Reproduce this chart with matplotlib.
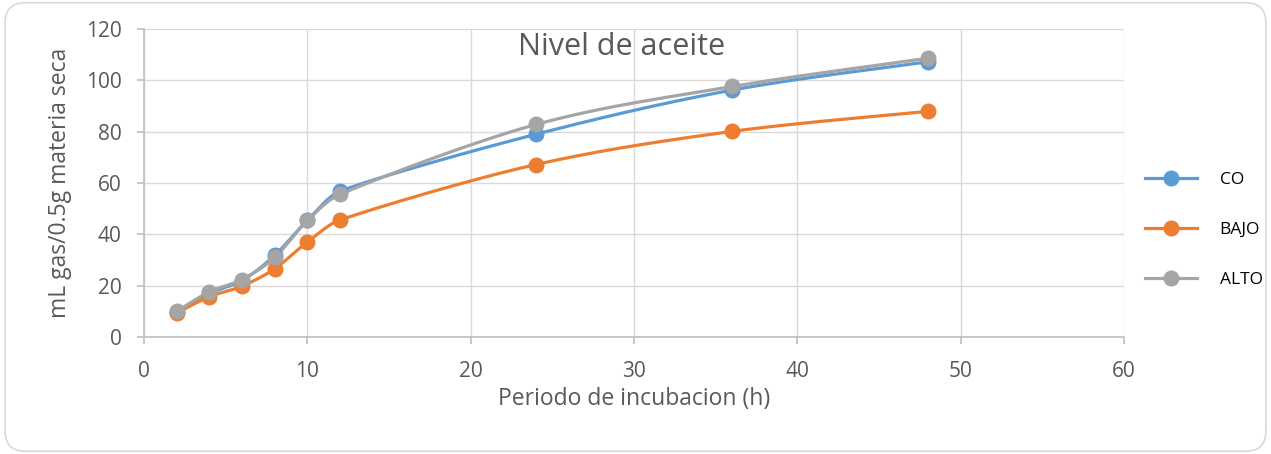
import numpy as np
import matplotlib.pyplot as plt
from matplotlib.patches import FancyBboxPatch

plt.rcParams['font.family'] = ['Open Sans', 'DejaVu Sans']

horas = [2, 4, 6, 8, 10, 12, 24, 36, 48]
co = [9.6, 17.0, 22.0, 31.8, 45.5, 56.8, 79.0, 96.2, 107.2]
bajo = [9.3, 15.7, 19.8, 26.6, 37.0, 45.6, 67.2, 80.1, 87.9]
alto = [10.0, 17.6, 22.4, 31.0, 45.4, 55.6, 82.8, 97.6, 108.6]

series = [('CO', co, '#5B9BD5'), ('BAJO', bajo, '#ED7D31'), ('ALTO', alto, '#A5A5A5')]


def suave(x, y, n=40):
    # curva Bezier entre los puntos (linea suavizada), con las tangentes
    # recortadas para que no se pasen del tramo vecino
    x = np.asarray(x, float)
    y = np.asarray(y, float)
    k = len(x)
    tx = np.zeros(k)
    ty = np.zeros(k)
    for i in range(k):
        a = max(i - 1, 0)
        b = min(i + 1, k - 1)
        tx[i] = (x[b] - x[a]) / 6
        ty[i] = (y[b] - y[a]) / 6
    xs, ys = [], []
    t = np.linspace(0, 1, n)
    for i in range(k - 1):
        dx = x[i + 1] - x[i]
        f1 = min(1.0, dx / 3 / tx[i]) if tx[i] > 0 else 1.0
        f2 = min(1.0, dx / 3 / tx[i + 1]) if tx[i + 1] > 0 else 1.0
        c1x, c1y = x[i] + tx[i] * f1, y[i] + ty[i] * f1
        c2x, c2y = x[i + 1] - tx[i + 1] * f2, y[i + 1] - ty[i + 1] * f2
        bx = (1 - t) ** 3 * x[i] + 3 * (1 - t) ** 2 * t * c1x + 3 * (1 - t) * t ** 2 * c2x + t ** 3 * x[i + 1]
        by = (1 - t) ** 3 * y[i] + 3 * (1 - t) ** 2 * t * c1y + 3 * (1 - t) * t ** 2 * c2y + t ** 3 * y[i + 1]
        xs.extend(bx)
        ys.extend(by)
    return xs, ys


fig = plt.figure(figsize=(12.71, 4.54), dpi=100)
marco = FancyBboxPatch((0.004, 0.006), 0.992, 0.988, boxstyle='round,pad=0,rounding_size=0.016',
                       transform=fig.transFigure, facecolor='white', edgecolor='#d9d9d9',
                       linewidth=1.2, mutation_aspect=2.8, zorder=-10)
fig.add_artist(marco)
ax = fig.add_axes([144 / 1271, 117 / 454, 980 / 1271, 308 / 454])
ax.set_facecolor('none')

for nombre, vals, color in series:
    sx, sy = suave(horas, vals)
    ax.plot(sx, sy, color=color, linewidth=2.3, solid_capstyle='round', zorder=3)
    ax.plot(horas, vals, 'o', color=color, markersize=10.5, zorder=4)
    ax.plot([], [], '-o', color=color, linewidth=2.3, markersize=10.5, label=nombre)

ax.set_xlim(0, 60)
ax.set_ylim(0, 120)
ax.set_xticks(range(0, 61, 10))
ax.set_yticks(range(0, 121, 20))
ax.grid(True, color='#d9d9d9', linewidth=1)
ax.set_axisbelow(True)
for lado in ['top', 'right']:
    ax.spines[lado].set_visible(False)
for lado in ['left', 'bottom']:
    ax.spines[lado].set_color('#bfbfbf')
    ax.spines[lado].set_linewidth(1.2)
ax.tick_params(colors='#bfbfbf', labelcolor='#595959', labelsize=15, length=5, width=1.2)
ax.tick_params(axis='x', pad=12)
ax.tick_params(axis='y', pad=11)

ax.set_xlabel('Periodo de incubacion (h)', fontsize=16.5, color='#595959', labelpad=4)
ax.set_ylabel('mL gas/0.5g materia seca', fontsize=16.5, color='#595959', labelpad=10)
ax.text(0.487, 0.94, 'Nivel de aceite', transform=ax.transAxes, ha='center', va='center',
        fontsize=22, color='#595959')

fig.legend(loc='center left', bbox_to_anchor=(1145 / 1271, 0.493), frameon=False, fontsize=12.5,
           borderpad=0, borderaxespad=0, labelspacing=1.95, handlelength=3.0, handletextpad=1.3)

fig.savefig('out.png', dpi=100)
